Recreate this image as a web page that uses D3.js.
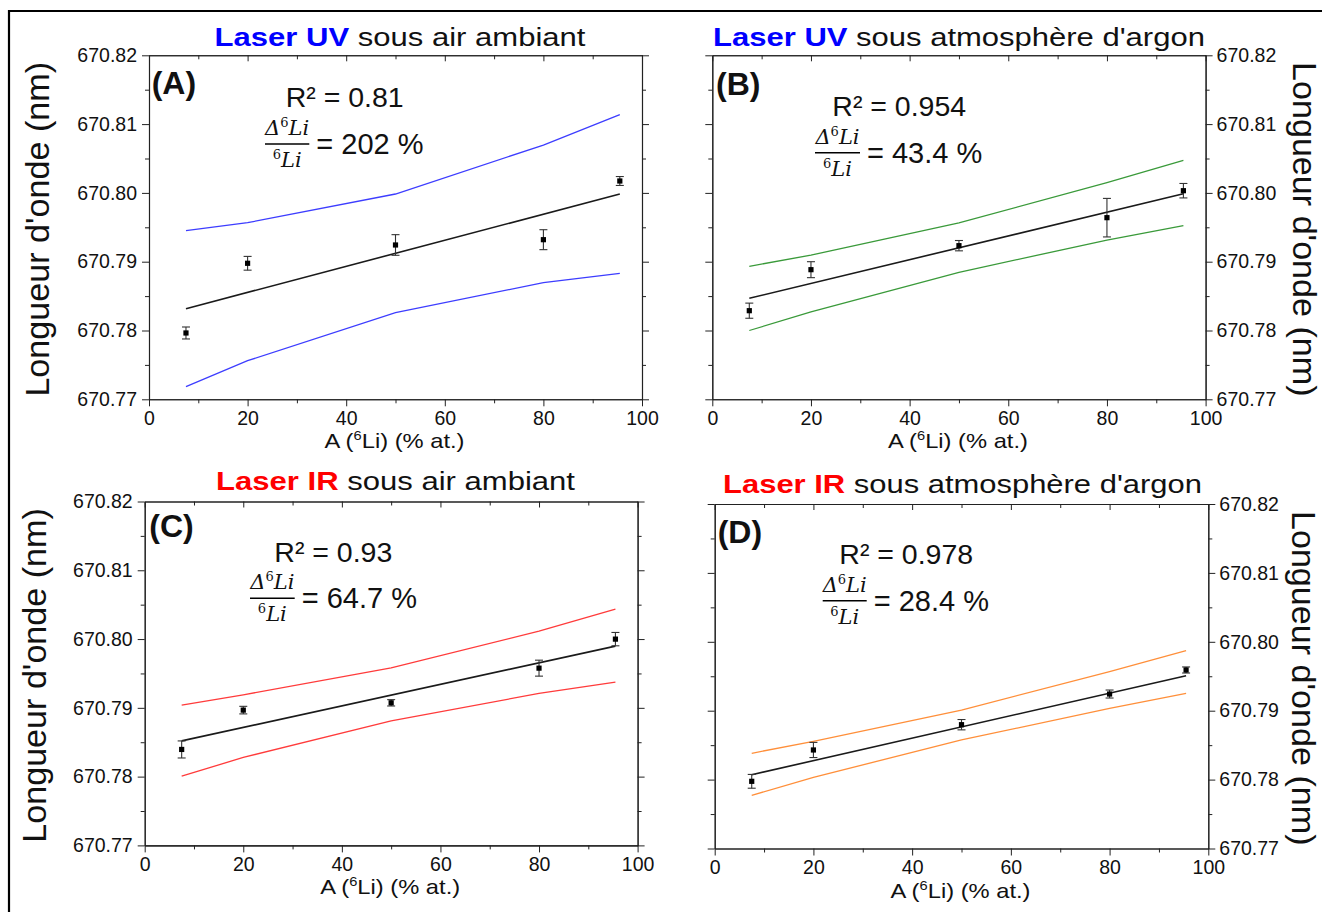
<!DOCTYPE html>
<html><head><meta charset="utf-8">
<script src="https://cdn.jsdelivr.net/npm/d3@7"></script>
<style>
body{margin:0;background:#fff}
svg{display:block}
text{font-family:"Liberation Sans",Arial,sans-serif;fill:#111}
</style>
</head><body><svg id="c" width="1322" height="912"></svg>
<script>
// ---------- DATA ----------
const xValues = [7.5, 20, 50, 80, 95.5];
const fitX = [7.5, 95.5];
const xTicks = [0, 20, 40, 60, 80, 100];
const xMinorTicks = [10, 30, 50, 70, 90];
const yTicks = [670.77, 670.78, 670.79, 670.80, 670.81, 670.82];
const yMinorTicks = [670.775, 670.785, 670.795, 670.805, 670.815];

const panelLetters = ["(A)", "(B)", "(C)", "(D)"];
const laserNames = ["Laser UV", "Laser UV", "Laser IR", "Laser IR"];
const atmospheres = ["sous air ambiant", "sous atmosphère d'argon", "sous air ambiant", "sous atmosphère d'argon"];
const r2Labels = ["R² = 0.81", "R² = 0.954", "R² = 0.93", "R² = 0.978"];
const ratioLabels = ["= 202 %", "= 43.4 %", "= 64.7 %", "= 28.4 %"];
const yAxisTitle = "Longueur d'onde (nm)";

const aMeasured = [670.77964, 670.78977, 670.79243, 670.79320, 670.80173];
const aError    = [0.00087, 0.00100, 0.00150, 0.00145, 0.00065];
const aFit      = [670.78317, 670.79984];
const aUpper    = [670.79451, 670.79567, 670.79984, 670.80696, 670.81137];
const aLower    = [670.77183, 670.77561, 670.78259, 670.78695, 670.78831];

const bMeasured = [670.78288, 670.78884, 670.79233, 670.79640, 670.80032];
const bError    = [0.00110, 0.00116, 0.00075, 0.00280, 0.00105];
const bFit      = [670.78468, 670.79988];
const bUpper    = [670.78933, 670.79097, 670.79563, 670.80148, 670.80474];
const bLower    = [670.78000, 670.78269, 670.78846, 670.79315, 670.79523];

const cMeasured = [670.78395, 670.78967, 670.79073, 670.79577, 670.79999];
const cError    = [0.00124, 0.00055, 0.00046, 0.00116, 0.00097];
const cFit      = [670.78520, 670.79897];
const cUpper    = [670.79039, 670.79189, 670.79581, 670.80115, 670.80435];
const cLower    = [670.78007, 670.78279, 670.78811, 670.79209, 670.79373];

const dMeasured = [670.77975, 670.78430, 670.78797, 670.79242, 670.79591];
const dError    = [0.00100, 0.00110, 0.00075, 0.00058, 0.00044];
const dFit      = [670.78071, 670.79508];
const dUpper    = [670.78382, 670.78556, 670.79010, 670.79566, 670.79871];
const dLower    = [670.77772, 670.78033, 670.78575, 670.79035, 670.79253];

// ---------- LAYOUT ----------
const panels = [
  {measured:aMeasured, err:aError, fit:aFit, upper:aUpper, lower:aLower,
   x0:149, x1:642, y0:55.3, y1:399.3, side:"left", band:"#3d3dff", laser:"#0000ff",
   titleCx:400, titleBase:46, titleW:371, yTitleX:37, bar:[265,309.3,144], r2:[285.7,106.7], lab:[151.7,93.5]},
  {measured:bMeasured, err:bError, fit:bFit, upper:bUpper, lower:bLower,
   x0:712.3, x1:1205.6, y0:55.3, y1:399.3, side:"right", band:"#3a9a3a", laser:"#0000ff",
   titleCx:959, titleBase:46, titleW:492, yTitleX:1304, bar:[815,860,152.7], r2:[832.3,116], lab:[716,95]},
  {measured:cMeasured, err:cError, fit:cFit, upper:cUpper, lower:cLower,
   x0:144.7, x1:637.6, y0:501.5, y1:845.4, side:"left", band:"#ff3b3b", laser:"#ff0000",
   titleCx:395.5, titleBase:490, titleW:359, yTitleX:34, bar:[250,294.7,598.3], r2:[274.3,561.7], lab:[149.3,536.7]},
  {measured:dMeasured, err:dError, fit:dFit, upper:dUpper, lower:dLower,
   x0:714.7, x1:1208.3, y0:504, y1:848.5, side:"right", band:"#ff8f3a", laser:"#ff0000",
   titleCx:962.5, titleBase:493, titleW:479, yTitleX:1303, bar:[822.7,866.7,600.7], r2:[839.3,564], lab:[717.7,543.3]}
];

const svg = d3.select("#c");
// outer frame
svg.append("line").attr("x1",9).attr("y1",11).attr("x2",1322).attr("y2",11).attr("stroke","#000").attr("stroke-width",2.2);
svg.append("line").attr("x1",9).attr("y1",10).attr("x2",9).attr("y2",912).attr("stroke","#000").attr("stroke-width",2.2);

panels.forEach((p, i) => {
  const g = svg.append("g");
  const x = d3.scaleLinear().domain([0, 100]).range([p.x0, p.x1]);
  const y = d3.scaleLinear().domain([670.77, 670.82]).range([p.y1, p.y0]);

  function styleAxis(sel, showLabels) {
    sel.select(".domain").attr("stroke", "#222").attr("stroke-width", 1.1);
    sel.selectAll(".tick line").attr("stroke", "#222").attr("stroke-width", 1);
    sel.selectAll(".tick text").style("font-size", "19.5px").attr("fill", "#111")
      .style("display", showLabels ? null : "none");
  }
  // bottom
  const gb = g.append("g").attr("transform", `translate(0,${p.y1})`)
    .call(d3.axisBottom(x).tickValues(xTicks).tickSize(7).tickSizeOuter(0).tickPadding(5).tickFormat(d3.format("d")));
  styleAxis(gb, true);
  const gbm = g.append("g").attr("transform", `translate(0,${p.y1})`)
    .call(d3.axisBottom(x).tickValues(xMinorTicks).tickSize(4).tickSizeOuter(0).tickFormat(""));
  styleAxis(gbm, false);
  // top (inward ticks)
  const gt = g.append("g").attr("transform", `translate(0,${p.y0})`)
    .call(d3.axisTop(x).tickValues(xTicks).tickSize(-6).tickSizeOuter(0).tickFormat(""));
  styleAxis(gt, false);
  const gtm = g.append("g").attr("transform", `translate(0,${p.y0})`)
    .call(d3.axisTop(x).tickValues(xMinorTicks).tickSize(-4).tickSizeOuter(0).tickFormat(""));
  styleAxis(gtm, false);
  // left
  const gl = g.append("g").attr("transform", `translate(${p.x0},0)`)
    .call(d3.axisLeft(y).tickValues(yTicks).tickSize(7).tickSizeOuter(0).tickPadding(5).tickFormat(d3.format(".2f")));
  styleAxis(gl, p.side === "left");
  const glm = g.append("g").attr("transform", `translate(${p.x0},0)`)
    .call(d3.axisLeft(y).tickValues(yMinorTicks).tickSize(4).tickSizeOuter(0).tickFormat(""));
  styleAxis(glm, false);
  // right
  const gr = g.append("g").attr("transform", `translate(${p.x1},0)`)
    .call(d3.axisRight(y).tickValues(yTicks).tickSize(7).tickSizeOuter(0).tickPadding(4).tickFormat(d3.format(".2f")));
  styleAxis(gr, p.side === "right");
  const grm = g.append("g").attr("transform", `translate(${p.x1},0)`)
    .call(d3.axisRight(y).tickValues(yMinorTicks).tickSize(4).tickSizeOuter(0).tickFormat(""));
  styleAxis(grm, false);

  // confidence bands
  const line = d3.line().x(d => x(d[0])).y(d => y(d[1]));
  [p.upper, p.lower].forEach(arr => {
    g.append("path").attr("d", line(xValues.map((v, k) => [v, arr[k]])))
      .attr("fill", "none").attr("stroke", p.band).attr("stroke-width", 1.3);
  });
  // fit line
  g.append("path").attr("d", line(fitX.map((v, k) => [v, p.fit[k]])))
    .attr("fill", "none").attr("stroke", "#1a1a1a").attr("stroke-width", 1.6);

  // error bars + markers
  xValues.forEach((xv, k) => {
    const cx = x(xv), yt = y(p.measured[k] + p.err[k]), yb = y(p.measured[k] - p.err[k]);
    g.append("line").attr("x1", cx).attr("x2", cx).attr("y1", yt).attr("y2", yb).attr("stroke", "#333").attr("stroke-width", 1.1);
    [yt, yb].forEach(yy => g.append("line").attr("x1", cx - 4).attr("x2", cx + 4).attr("y1", yy).attr("y2", yy).attr("stroke", "#333").attr("stroke-width", 1.1));
    g.append("rect").attr("x", cx - 2.6).attr("y", y(p.measured[k]) - 2.6).attr("width", 5.2).attr("height", 5.2).attr("fill", "#000");
  });

  // title
  const tt = g.append("text").attr("text-anchor", "middle").style("font-size", "26.5px");
  tt.append("tspan").text(laserNames[i]).attr("fill", p.laser).style("fill", p.laser).style("font-weight", "bold");
  tt.append("tspan").text(" " + atmospheres[i]);
  const tw = tt.node().getComputedTextLength();
  tt.attr("transform", `translate(${p.titleCx},${p.titleBase}) scale(${p.titleW / tw},1)`);

  // x axis title
  const xt = g.append("text").attr("text-anchor", "middle").style("font-size", "21px")
    .attr("transform", `translate(${(p.x0 + p.x1) / 2 - 1},${p.y1 + 49}) scale(1.13,1)`);
  xt.append("tspan").text("A (");
  xt.append("tspan").text("6").style("font-size", "13px").attr("dy", -8);
  xt.append("tspan").text("Li) (% at.)").attr("dy", 8);

  // y axis title
  const ycy = (p.y0 + p.y1) / 2 + 2;
  g.append("text").attr("text-anchor", "middle").style("font-size", "32.5px")
    .attr("transform", `translate(${p.yTitleX},${ycy}) rotate(${p.side === "left" ? -90 : 90}) translate(0,${p.side === "left" ? 12 : 11}) scale(1.05,1)`)
    .text(yAxisTitle);

  // panel letter
  g.append("text").attr("x", p.lab[0]).attr("y", p.lab[1]).style("font-size", "32px").style("font-weight", "bold").text(panelLetters[i]);
  // R²
  g.append("text").attr("x", p.r2[0]).attr("y", p.r2[1]).style("font-size", "28.5px").text(r2Labels[i]);
  // fraction
  const [bx0, bx1, by] = p.bar;
  const bcx = (bx0 + bx1) / 2;
  g.append("line").attr("x1", bx0).attr("x2", bx1).attr("y1", by).attr("y2", by).attr("stroke", "#000").attr("stroke-width", 1.6);
  const num = g.append("text").attr("x", bcx).attr("y", by - 9).attr("text-anchor", "middle")
    .style("font-family", "'DejaVu Serif','Liberation Serif',serif").style("font-style", "italic").style("font-size", "21px");
  num.append("tspan").text("Δ");
  num.append("tspan").text("6").style("font-size", "13px").style("font-style", "normal").attr("dy", -8);
  num.append("tspan").text("Li").attr("dy", 8);
  const den = g.append("text").attr("x", bcx).attr("y", by + 23).attr("text-anchor", "middle")
    .style("font-family", "'DejaVu Serif','Liberation Serif',serif").style("font-style", "italic").style("font-size", "21px");
  den.append("tspan").text("6").style("font-size", "13px").style("font-style", "normal").attr("dy", -8);
  den.append("tspan").text("Li").attr("dy", 8);
  g.append("text").attr("x", bx1 + 7).attr("y", by + 10).style("font-size", "29px").text(ratioLabels[i]);
});
</script>
</body></html>
